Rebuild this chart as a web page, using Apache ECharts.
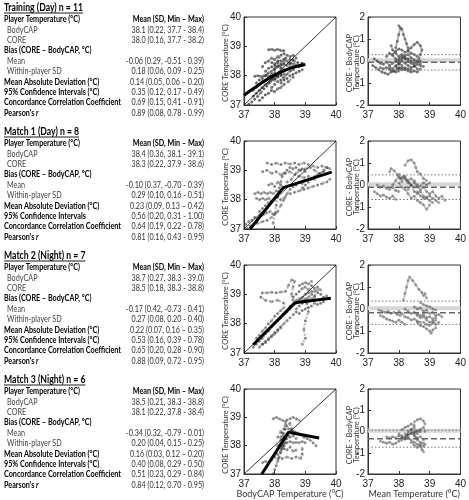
<!DOCTYPE html>
<html><head><meta charset="utf-8">
<script src="https://cdn.jsdelivr.net/npm/echarts@6.0.0/dist/echarts.min.js"></script>
<style>html,body{margin:0;padding:0;background:#fff}#c{width:469px;height:500px}</style>
</head><body><div id="c"></div>
<script>
// ---------- table text ----------
const blockTitles = ['Training (Day) n = 11','Match 1 (Day) n = 8','Match 2 (Night) n = 7','Match 3 (Night) n = 6'];
const rowLabels = ['Player Temperature (°C)','BodyCAP','CORE','Bias (CORE – BodyCAP, °C)','Mean','Within-player SD','Mean Absolute Deviation (°C)','95% Confidence Intervals (°C)','Concordance Correlation Coefficient',"Pearson's "];
const rowIsHeader = [true,false,false,true,false,false,true,true,true,true];
const ciLabelMatch1 = '95% Confidence Intervals';
const valueHeader = 'Mean (SD, Min – Max)';
const trainValues = ['38.1 (0.22, 37.7 - 38.4)','38.0 (0.16, 37.7 - 38.2)','','-0.06 (0.29, -0.51 - 0.39)','0.18 (0.06, 0.09 - 0.25)','0.14 (0.05, 0.06 – 0.20)','0.35 (0.12, 0.17 - 0.49)','0.69 (0.15, 0.41 - 0.91)','0.89 (0.08, 0.78 - 0.99)'];
const match1Values = ['38.4 (0.36, 38.1 - 39.1)','38.3 (0.22, 37.9 - 38.6)','','-0.10 (0.37, -0.70 - 0.39)','0.29 (0.10, 0.16 - 0.51)','0.23 (0.09, 0.13 – 0.42)','0.56 (0.20, 0.31 - 1.00)','0.64 (0.19, 0.22 - 0.78)','0.81 (0.16, 0.43 - 0.95)'];
const match2Values = ['38.7 (0.27, 38.3 - 39.0)','38.5 (0.18, 38.3 - 38.8)','','-0.17 (0.42, -0.73 - 0.41)','0.27 (0.08, 0.20 - 0.40)','0.22 (0.07, 0.16 – 0.35)','0.53 (0.16, 0.39 - 0.78)','0.65 (0.20, 0.28 - 0.90)','0.88 (0.09, 0.72 - 0.95)'];
const match3Values = ['38.5 (0.21, 38.3 - 38.8)','38.1 (0.22, 37.8 - 38.4)','','-0.34 (0.32, -0.79 - 0.01)','0.20 (0.04, 0.15 - 0.25)','0.16 (0.03, 0.12 – 0.20)','0.40 (0.08, 0.29 - 0.50)','0.51 (0.23, 0.29 - 0.84)','0.84 (0.12, 0.70 - 0.95)'];
const scatterYName = 'CORE Temperature (°C)';
const baYName1 = 'CORE - BodyCAP';
const baYName2 = 'Temperature (°C)';

// ---------- axis ticks ----------
const tempTicks = [37, 38, 39, 40];
const diffTicks = [-2, -1, 0, 1, 2];

// ---------- Bland-Altman lines ----------
const biasMean = [-0.06, -0.10, -0.17, -0.34];
const loaUpper = [0.29, 0.46, 0.36, 0.06];
const loaLower = [-0.41, -0.66, -0.70, -0.74];
const zeroRef = 0.03;

// ---------- scatter traces (BodyCAP, CORE) ----------
const train_sc = [
 [[37.15,37.02],[37.25,37.1],[37.35,37.2],[37.45,37.3],[37.55,37.42],[37.65,37.55],[37.75,37.65],[37.85,37.78],[37.95,37.9],[38.05,38.0],[38.15,38.12],[38.3,38.22]],
 [[37.35,37.98],[37.45,38.0],[37.55,37.97],[37.65,38.0],[37.75,38.02],[37.85,37.98]],
 [[37.8,38.88],[37.9,38.9],[38.0,38.87],[38.1,38.9],[38.2,38.86],[38.3,38.85]],
 [[37.6,38.3],[37.7,38.45],[37.8,38.5],[37.9,38.6],[38.0,38.55],[38.1,38.65],[38.2,38.5],[38.35,38.6],[38.5,38.55],[38.65,38.5]],
 [[37.9,37.6],[38.0,37.7],[38.1,37.8],[38.2,37.85],[38.3,37.95],[38.4,38.05],[38.5,38.15],[38.6,38.2],[38.7,38.3],[38.8,38.35],[38.9,38.4]],
 [[37.5,37.15],[37.6,37.25],[37.7,37.35],[37.8,37.4],[37.9,37.5],[38.0,37.45],[38.1,37.55],[38.2,37.6],[38.3,37.7],[38.45,37.8],[38.6,37.95]],
 [[37.7,38.15],[37.8,38.25],[37.9,38.3],[38.0,38.2],[38.1,38.35],[38.2,38.25],[38.3,38.4],[38.4,38.35],[38.5,38.45],[38.6,38.4],[38.75,38.45],[38.9,38.42]],
 [[37.3,37.5],[37.4,37.6],[37.5,37.7],[37.6,37.8],[37.7,37.85],[37.8,37.95],[37.9,38.05],[38.0,38.1],[38.1,38.0],[38.2,38.1]],
 [[38.0,38.4],[38.1,38.5],[38.2,38.7],[38.3,38.75],[38.4,38.7],[38.5,38.65],[38.6,38.7],[38.7,38.6]],
 [[37.4,37.75],[37.5,37.85],[37.6,37.9],[37.7,38.0],[37.8,38.1],[37.9,38.15],[38.0,38.25],[38.1,38.3],[38.2,38.35],[38.3,38.45]],
 [[38.0,37.9],[38.1,38.0],[38.2,38.05],[38.3,38.15],[38.4,38.2],[38.5,38.3],[38.6,38.3],[38.7,38.35],[38.8,38.3],[38.9,38.35]],
 [[37.3,37.3],[37.4,37.4],[37.5,37.5],[37.6,37.6],[37.7,37.7],[37.8,37.75],[37.9,37.85],[38.0,37.85],[38.1,37.95],[38.2,38.0],[38.3,38.05]],
 [[38.2,37.75],[38.3,37.85],[38.4,37.9],[38.5,38.0],[38.6,38.05],[38.7,38.1],[38.8,38.15],[38.9,38.2]],
 [[37.9,38.45],[38.0,38.35],[38.1,38.45],[38.2,38.4],[38.3,38.55],[38.4,38.5],[38.5,38.4],[38.6,38.55]]
];
const m1_sc = [
 [[37.75,39.25],[37.9,39.2],[38.05,39.25],[38.2,39.2],[38.35,39.25],[38.5,39.22],[38.65,39.25],[38.8,39.2],[38.95,39.25],[39.1,39.2],[39.25,39.15],[39.4,39.1],[39.55,39.15],[39.7,39.1],[39.8,39.05]],
 [[37.6,38.95],[37.75,39.0],[37.9,38.9],[38.05,38.95],[38.2,38.85],[38.35,38.9],[38.5,38.95],[38.65,38.85],[38.8,38.8],[38.95,38.75],[39.1,38.8],[39.3,38.7]],
 [[37.35,38.2],[37.45,38.25],[37.55,38.2],[37.65,38.25],[37.75,38.2],[37.85,38.25],[37.95,38.2],[38.05,38.3],[38.15,38.25]],
 [[37.4,38.05],[37.5,38.0],[37.6,38.05],[37.7,38.0],[37.8,38.05],[37.9,37.95],[38.0,38.05],[38.1,38.1],[38.2,38.0],[38.35,38.1]],
 [[37.05,37.15],[37.15,37.25],[37.25,37.3],[37.35,37.4],[37.45,37.35],[37.55,37.45],[37.65,37.5],[37.75,37.55],[37.85,37.6],[37.95,37.5],[38.05,37.55]],
 [[37.1,37.0],[37.2,37.1],[37.3,37.15],[37.45,37.2],[37.6,37.25],[37.75,37.3],[37.9,37.4]],
 [[37.95,37.2],[38.0,37.5],[38.05,37.8],[38.1,38.1],[38.15,38.4],[38.2,38.6],[38.25,38.8]],
 [[38.1,37.6],[38.2,37.8],[38.3,38.0],[38.4,38.2],[38.5,38.35],[38.6,38.45],[38.7,38.5],[38.8,38.6],[38.9,38.55],[39.0,38.65]],
 [[38.5,38.2],[38.65,38.25],[38.8,38.3],[38.95,38.35],[39.1,38.4],[39.25,38.45],[39.4,38.5],[39.55,38.55],[39.7,38.6],[39.8,38.7]],
 [[38.4,38.6],[38.55,38.7],[38.7,38.9],[38.85,39.0],[39.0,39.05],[39.15,39.1],[39.3,39.0],[39.45,38.9],[39.6,38.95]],
 [[37.8,38.5],[37.9,38.55],[38.0,38.45],[38.1,38.6],[38.2,38.5],[38.3,38.4]],
 [[38.3,38.9],[38.4,39.0],[38.5,39.1],[38.6,39.05],[38.7,39.1],[38.8,39.0],[38.9,39.05],[39.0,38.95]],
 [[37.5,37.6],[37.6,37.7],[37.7,37.8],[37.8,37.9],[37.9,37.95],[38.0,38.0]],
 [[38.9,38.4],[39.0,38.5],[39.1,38.6],[39.2,38.7],[39.3,38.8],[39.4,38.85],[39.5,38.9],[39.6,39.0],[39.7,39.1]]
];
const m2_sc = [
 [[37.3,37.2],[37.4,37.3],[37.5,37.4],[37.6,37.5],[37.7,37.65],[37.8,37.75],[37.9,37.9],[38.0,38.0],[38.1,38.1],[38.2,38.2],[38.3,38.3],[38.4,38.4],[38.5,38.5]],
 [[37.5,37.2],[37.6,37.3],[37.7,37.35],[37.8,37.5],[37.9,37.55],[38.0,37.7],[38.1,37.8],[38.2,37.9],[38.3,38.0],[38.4,38.1],[38.5,38.2]],
 [[37.4,37.5],[37.5,37.6],[37.6,37.75],[37.7,37.85],[37.8,38.0],[37.9,38.1],[38.0,38.25],[38.1,38.35],[38.2,38.45],[38.3,38.55]],
 [[38.3,38.7],[38.1,38.8],[37.9,38.75],[37.7,38.8],[37.55,38.9],[37.6,39.05],[37.75,39.05],[37.9,39.07],[38.05,39.05],[38.2,39.08],[38.35,39.1],[38.45,39.3],[38.55,39.5],[38.65,39.45],[38.6,39.25],[38.55,39.0],[38.6,38.8]],
 [[39.05,38.7],[39.1,38.4],[39.0,38.1],[38.95,37.8],[39.0,37.5],[38.9,37.3]],
 [[38.7,38.5],[38.8,38.6],[38.9,38.7],[39.0,38.8],[39.1,38.9],[39.2,39.0],[39.3,38.95],[39.4,39.05],[39.5,39.0],[39.6,38.9],[39.7,38.95]],
 [[38.6,38.9],[38.7,39.0],[38.8,39.1],[38.9,39.2],[39.0,39.25],[39.1,39.15],[39.2,39.3],[39.3,39.2],[39.4,39.25],[39.5,39.15]],
 [[38.6,38.3],[38.7,38.4],[38.8,38.35],[38.9,38.45],[39.0,38.5],[39.1,38.55],[39.2,38.6],[39.3,38.7],[39.4,38.65],[39.5,38.7],[39.6,38.75]],
 [[38.8,39.3],[38.9,39.35],[39.0,39.4],[39.1,39.35],[39.2,39.45]],
 [[38.7,38.8],[38.8,38.85],[38.9,38.9],[39.0,39.0],[39.1,39.05],[39.2,39.1],[39.3,39.1],[39.4,39.15]],
 [[38.5,38.6],[38.6,38.65],[38.7,38.7],[38.8,38.75],[38.9,38.8],[39.0,38.85],[39.1,38.8],[39.2,38.85],[39.3,38.9]],
 [[37.6,37.3],[37.7,37.4],[37.8,37.45],[37.9,37.6],[38.0,37.65],[38.1,37.75],[38.2,37.85]]
];
const m3_sc = [
 [[37.6,37.4],[37.7,37.45],[37.8,37.4],[37.9,37.5],[38.0,37.6],[38.1,37.7],[38.2,37.8],[38.25,38.0],[38.3,38.2]],
 [[37.95,37.0],[38.0,37.15],[38.05,37.3],[38.1,37.45],[38.15,37.6],[38.2,37.75],[38.25,37.9],[38.3,38.05],[38.35,38.25]],
 [[38.1,37.55],[38.25,37.55],[38.4,37.6],[38.55,37.55],[38.7,37.6],[38.85,37.55],[38.9,37.7],[38.9,37.9]],
 [[38.2,38.3],[38.25,38.45],[38.3,38.6],[38.35,38.75],[38.4,38.9],[38.5,38.95],[38.6,39.0],[38.7,38.95],[38.8,38.9]],
 [[37.95,38.95],[38.05,39.0],[38.15,38.95],[38.25,38.9],[38.35,38.85]],
 [[38.45,38.6],[38.55,38.55],[38.65,38.5],[38.75,38.45],[38.85,38.4],[38.95,38.3],[39.05,38.25],[39.15,38.2],[39.25,38.1],[39.35,38.0]],
 [[38.4,38.1],[38.5,38.15],[38.6,38.1],[38.7,38.12],[38.8,38.1],[38.9,38.15],[39.0,38.1]],
 [[38.1,38.3],[38.2,38.5],[38.3,38.3],[38.4,38.4],[38.5,38.3],[38.6,38.35],[38.7,38.25]],
 [[38.1,38.0],[38.2,38.1],[38.3,37.9],[38.4,37.85],[38.5,37.95],[38.6,37.8],[38.7,37.85]],
 [[38.2,38.2],[38.3,38.4],[38.35,38.6],[38.4,38.7],[38.5,38.8],[38.55,38.6],[38.6,38.5]],
 [[38.2,37.9],[38.3,38.0],[38.35,38.1],[38.4,38.25],[38.45,38.35],[38.5,38.5]]
];

// ---------- Bland-Altman traces (mean, CORE - BodyCAP) ----------
const train_ba = [
 [[37.15,-0.2],[37.25,-0.3],[37.35,-0.4],[37.45,-0.5],[37.55,-0.55],[37.65,-0.6],[37.75,-0.5],[37.85,-0.45],[37.95,-0.35]],
 [[37.2,0.1],[37.3,0.0],[37.4,-0.1],[37.5,-0.15],[37.6,-0.05],[37.7,-0.2],[37.8,-0.1],[37.9,0.0],[38.0,-0.1],[38.1,-0.2]],
 [[37.9,0.6],[37.95,0.9],[38.0,1.2],[38.05,1.5],[38.0,1.6],[38.1,1.45],[38.15,1.2],[38.2,1.0],[38.25,0.8],[38.3,0.6]],
 [[37.75,0.7],[37.8,0.5],[37.9,0.35],[38.0,0.2],[38.1,0.3],[38.2,0.1],[38.3,0.0],[38.4,-0.1],[38.5,-0.2],[38.6,-0.35]],
 [[38.0,-0.3],[38.1,-0.4],[38.2,-0.3],[38.3,-0.45],[38.4,-0.5],[38.5,-0.45],[38.6,-0.5],[38.7,-0.35]],
 [[38.3,0.5],[38.4,0.6],[38.5,0.75],[38.6,0.85],[38.7,0.7],[38.75,0.5],[38.7,0.3],[38.65,0.1]],
 [[37.6,0.2],[37.7,0.35],[37.8,0.25],[37.9,0.1],[38.0,0.0],[38.1,0.1],[38.2,0.25],[38.3,0.3],[38.4,0.15],[38.5,0.05],[38.6,0.0],[38.7,-0.1]],
 [[37.9,-0.2],[38.0,-0.15],[38.1,0.0],[38.2,-0.1],[38.3,-0.2],[38.4,-0.3],[38.5,-0.25],[38.6,-0.15],[38.7,-0.2],[38.8,-0.25]],
 [[37.7,-0.3],[37.8,-0.35],[37.9,-0.25],[38.0,-0.35],[38.1,-0.3],[38.2,-0.4],[38.3,-0.35],[38.4,-0.4]],
 [[37.8,0.3],[37.9,0.45],[38.0,0.55],[38.1,0.5],[38.2,0.4],[38.3,0.45],[38.4,0.35],[38.5,0.3],[38.6,0.2]],
 [[37.4,-0.3],[37.5,-0.35],[37.6,-0.3],[37.7,-0.4],[37.8,-0.45],[37.9,-0.5],[38.0,-0.45]],
 [[38.0,0.1],[38.1,0.2],[38.2,0.15],[38.3,0.1],[38.4,0.0],[38.5,-0.1],[38.6,-0.05],[38.7,0.0]]
];
const m1_ba = [
 [[37.2,-0.3],[37.3,-0.4],[37.4,-0.5],[37.5,-0.45],[37.6,-0.55],[37.7,-0.6],[37.8,-0.5],[37.9,-0.65]],
 [[37.3,0.0],[37.4,-0.1],[37.5,-0.05],[37.6,-0.15],[37.7,-0.2],[37.8,-0.1],[37.9,-0.25],[38.0,-0.3]],
 [[37.7,0.6],[37.75,0.75],[37.85,0.65],[37.95,0.45],[38.05,0.3],[38.15,0.4],[38.25,0.2],[38.35,0.1]],
 [[38.2,0.9],[38.3,1.1],[38.4,1.15],[38.5,1.0],[38.55,0.8],[38.6,0.6],[38.7,0.5],[38.8,0.3],[38.9,0.2]],
 [[38.0,0.1],[38.1,-0.1],[38.2,-0.2],[38.3,-0.4],[38.4,-0.6],[38.5,-0.5],[38.6,-0.7],[38.7,-0.8],[38.8,-0.9],[38.9,-1.1],[39.0,-0.9]],
 [[38.5,0.2],[38.6,0.0],[38.7,-0.2],[38.8,-0.1],[38.9,-0.3],[39.0,-0.4],[39.1,-0.3],[39.2,-0.5],[39.3,-0.6],[39.4,-0.5],[39.5,-0.7]],
 [[38.0,0.5],[38.1,0.3],[38.2,0.4],[38.3,0.2],[38.4,0.3],[38.5,0.1],[38.6,-0.1],[38.7,-0.05],[38.8,0.1],[38.9,0.0],[39.0,0.1]],
 [[38.3,-0.2],[38.4,0.0],[38.5,-0.3],[38.6,-0.4],[38.7,-0.3],[38.8,-0.5],[38.9,-0.6],[39.0,-0.7],[39.1,-0.8]],
 [[37.8,0.0],[37.9,0.2],[38.0,0.35],[38.1,0.15],[38.2,0.3],[38.3,0.1],[38.4,0.0],[38.5,-0.1]],
 [[38.6,-0.3],[38.7,-0.5],[38.8,-0.6],[38.9,-0.55],[39.0,-0.5],[39.1,-0.6],[39.2,-0.7],[39.3,-0.8]]
];
const m2_ba = [
 [[37.35,-0.05],[37.45,-0.1],[37.55,-0.15],[37.65,-0.1],[37.75,-0.2],[37.85,-0.15],[37.95,-0.25],[38.05,-0.3]],
 [[37.4,-0.3],[37.5,-0.35],[37.6,-0.45],[37.7,-0.5],[37.8,-0.55],[37.9,-0.6],[38.0,-0.5],[38.1,-0.6],[38.2,-0.7]],
 [[38.15,0.4],[38.2,0.7],[38.25,1.0],[38.3,1.3],[38.35,1.45],[38.45,1.3],[38.55,1.1],[38.65,0.9],[38.75,0.75],[38.8,0.6],[38.85,0.7],[38.9,0.5]],
 [[38.2,0.0],[38.3,-0.1],[38.4,-0.2],[38.5,-0.15],[38.6,-0.3],[38.7,-0.4],[38.8,-0.35],[38.9,-0.5],[39.0,-0.6],[39.1,-0.55],[39.2,-0.7],[39.3,-0.6]],
 [[38.5,0.1],[38.6,0.0],[38.7,0.05],[38.8,-0.1],[38.9,-0.05],[39.0,-0.2],[39.1,-0.15],[39.2,-0.3],[39.3,-0.25],[39.4,-0.35]],
 [[38.6,-0.6],[38.7,-0.75],[38.8,-0.8],[38.9,-0.9],[39.0,-1.0],[39.05,-1.1],[39.1,-0.95],[39.2,-0.85]],
 [[38.0,-0.1],[38.1,-0.2],[38.2,-0.35],[38.3,-0.4],[38.4,-0.5],[38.5,-0.45],[38.6,-0.55],[38.7,-0.6]],
 [[38.7,0.3],[38.8,0.2],[38.9,0.15],[39.0,0.1],[39.1,0.0],[39.2,-0.05]],
 [[38.6,-0.2],[38.7,-0.3],[38.8,-0.25],[38.9,-0.4],[39.0,-0.35],[39.1,-0.45],[39.2,-0.4]],
 [[38.8,-0.6],[38.9,-0.7],[39.0,-0.75],[39.1,-0.65],[39.2,-0.5]]
];
const m3_ba = [
 [[37.4,-0.45],[37.5,-0.5],[37.6,-0.55],[37.7,-0.5],[37.8,-0.6],[37.9,-0.55],[38.0,-0.45],[38.1,-0.4]],
 [[37.6,-0.25],[37.7,-0.3],[37.8,-0.25],[37.9,-0.3],[38.0,-0.2],[38.1,-0.3],[38.2,-0.25],[38.3,-0.1]],
 [[38.0,-0.1],[38.1,-0.2],[38.2,-0.35],[38.3,-0.3],[38.4,-0.4],[38.5,-0.5],[38.6,-0.6],[38.7,-0.7],[38.75,-0.85],[38.8,-0.95]],
 [[38.3,0.0],[38.4,0.1],[38.5,0.2],[38.55,0.0],[38.6,-0.1],[38.7,0.1],[38.8,0.2],[38.85,0.0]],
 [[38.5,0.45],[38.6,0.55],[38.7,0.6],[38.8,0.5],[38.85,0.35]],
 [[38.2,-0.1],[38.3,-0.15],[38.4,-0.05],[38.5,-0.2],[38.6,-0.3],[38.7,-0.25],[38.8,-0.4]],
 [[38.4,-0.5],[38.5,-0.65],[38.6,-0.75],[38.7,-0.6],[38.8,-0.7],[38.85,-0.6]],
 [[38.1,0.1],[38.2,0.2],[38.3,0.25],[38.4,0.35],[38.5,0.3]],
 [[38.1,-0.3],[38.2,-0.35],[38.25,-0.2],[38.3,-0.25],[38.4,-0.1],[38.5,-0.05],[38.6,0.05],[38.7,0.0]],
 [[38.4,0.1],[38.5,-0.1],[38.55,-0.3],[38.6,-0.4],[38.7,-0.5],[38.8,-0.55]]
];

// ---------- fitted lines & identity ----------
const train_fit = [[37,37.33],[37.5,37.7],[38,38.02],[38.5,38.25],[39,38.38]];
const m1_fit = [[37.2,37.0],[38.28,38.41],[39.86,38.94]];
const m2_fit = [[37.3,37.28],[38.66,38.71],[39.83,38.87]];
const m3_fit = [[37.58,37.0],[38.45,38.47],[39.45,38.27]];
const identityLine = [[37,37],[40,40]];

// ---------- build ----------
const panels = [
  {sc: train_sc, ba: train_ba, fit: train_fit, smooth: true, vals: trainValues, alpha: 0.55},
  {sc: m1_sc, ba: m1_ba, fit: m1_fit, smooth: false, vals: match1Values, alpha: 0.42},
  {sc: m2_sc, ba: m2_ba, fit: m2_fit, smooth: false, vals: match2Values, alpha: 0.42},
  {sc: m3_sc, ba: m3_ba, fit: m3_fit, smooth: false, vals: match3Values, alpha: 0.42}
];
const rowTops = [17, 141, 265, 389];
const plotH = 88;
const tickFont = 'Liberation Sans';
const labFont = 'Lato, "Open Sans", sans-serif';

const grids = [], xAxes = [], yAxes = [], series = [];
function axisCommon(m){
  return {
    axisLine: {show: true, onZero: false, lineStyle: {color: '#333', width: 1}},
    axisTick: {show: true, inside: true, length: 3, lineStyle: {color: '#333'}},
    splitLine: {show: false},
    axisLabel: {fontFamily: tickFont, fontSize: 10, color: '#222', margin: m}
  };
}
panels.forEach((p, r) => {
  const gs = r*2, gb = r*2+1;
  grids.push({left: 244, top: rowTops[r], width: 92, height: plotH, show: true, borderColor: '#333', borderWidth: 1});
  grids.push({left: 368, top: rowTops[r], width: 94, height: plotH, show: true, borderColor: '#333', borderWidth: 1});
  const last = r === 3;
  xAxes.push(Object.assign(axisCommon(5), {gridIndex: gs, type: 'value', min: tempTicks[0], max: tempTicks[3], interval: 1,
    name: last ? 'BodyCAP Temperature (°C)' : '', nameLocation: 'middle', nameGap: 16,
    nameTextStyle: {fontFamily: labFont, fontSize: 9, color: '#333'}}));
  xAxes.push(Object.assign(axisCommon(5), {gridIndex: gb, type: 'value', min: tempTicks[0], max: tempTicks[3], interval: 1,
    name: last ? 'Mean Temperature (°C)' : '', nameLocation: 'middle', nameGap: 16,
    nameTextStyle: {fontFamily: labFont, fontSize: 9, color: '#333'}}));
  yAxes.push(Object.assign(axisCommon(3), {gridIndex: gs, type: 'value', min: tempTicks[0], max: tempTicks[3], interval: 1}));
  yAxes.push(Object.assign(axisCommon(3), {gridIndex: gb, type: 'value', min: diffTicks[0], max: diffTicks[4], interval: 1}));

  const a = p.alpha;
  p.sc.forEach(tr => series.push({type: 'line', xAxisIndex: gs, yAxisIndex: gs, data: tr, silent: true, z: 2,
    symbol: 'circle', symbolSize: 3, showSymbol: true,
    itemStyle: {color: 'rgba(40,40,40,' + a + ')'},
    lineStyle: {color: 'rgba(60,60,60,' + (a - 0.04) + ')', width: 2, type: [2, 1.5]}}));
  series.push({type: 'line', xAxisIndex: gs, yAxisIndex: gs, data: identityLine, symbol: 'none', silent: true, z: 3,
    lineStyle: {color: '#000', width: 0.8}});
  series.push({type: 'line', xAxisIndex: gs, yAxisIndex: gs, data: p.fit, symbol: 'none', silent: true, z: 4,
    smooth: p.smooth, lineStyle: {color: '#000', width: 3}});

  series.push({type: 'line', xAxisIndex: gb, yAxisIndex: gb, data: [[37, zeroRef],[40, zeroRef]], symbol: 'none', silent: true, z: 1,
    lineStyle: {color: '#d6d6d6', width: 4}});
  p.ba.forEach(tr => series.push({type: 'line', xAxisIndex: gb, yAxisIndex: gb, data: tr, silent: true, z: 2,
    symbol: 'circle', symbolSize: 3, showSymbol: true,
    itemStyle: {color: 'rgba(50,50,50,' + (a - 0.04) + ')'},
    lineStyle: {color: 'rgba(80,80,80,' + (a - 0.1) + ')', width: 2}}));
  series.push({type: 'line', xAxisIndex: gb, yAxisIndex: gb, data: [[37, biasMean[r]],[40, biasMean[r]]], symbol: 'none', silent: true, z: 3,
    lineStyle: {color: '#666', width: 1.4, type: [6, 3]}});
  [loaUpper[r], loaLower[r]].forEach(v => series.push({type: 'line', xAxisIndex: gb, yAxisIndex: gb, data: [[37, v],[40, v]], symbol: 'none', silent: true, z: 3,
    lineStyle: {color: '#777', width: 1, type: [1.5, 2]}}));
});

// ---------- table graphics ----------
const cv = document.createElement('canvas').getContext('2d');
function tw(font, s){ cv.font = font; return cv.measureText(s).width; }
const fB = 'bold 10px ' + labFont, fR = '10px ' + labFont, fBI = 'italic bold 10px ' + labFont, fT = 'bold 11.5px ' + labFont;
const sx = 117 / tw(fB, 'Concordance Correlation Coefficient');
const tsx = 79 / tw(fT, blockTitles[0]);
const graphics = [];
function txt(x, y, s, font, fill, align, scale){
  graphics.push({type: 'text', x: x, y: y, scaleX: scale, silent: true,
    style: {text: s, font: font, fill: fill, textAlign: align, textVerticalAlign: 'middle'}});
}
function vtxt(x, y, s, font){
  graphics.push({type: 'text', x: x, y: y, rotation: Math.PI / 2, silent: true,
    style: {text: s, font: font, fill: '#333', textAlign: 'center', textVerticalAlign: 'middle'}});
}
panels.forEach((p, r) => {
  const base = rowTops[r] - 17;
  const ty = base + 7;
  txt(4, ty, blockTitles[r], fT, '#000', 'left', tsx);
  const w = tw(fT, blockTitles[r]) * tsx;
  graphics.push({type: 'line', silent: true, shape: {x1: 4, y1: ty + 6, x2: 4 + w, y2: ty + 6}, style: {stroke: '#000', lineWidth: 0.9}});
  rowLabels.forEach((lab, i) => {
    const y = base + 19 + i * 10.4;
    let s = lab;
    if (r === 1 && i === 7) s = ciLabelMatch1;
    if (rowIsHeader[i]) {
      txt(4, y, s, fB, '#000', 'left', sx);
      if (i === 9) txt(4 + tw(fB, s) * sx, y, 'r', fBI, '#000', 'left', sx);
    } else {
      txt(7, y, s, fR, '#444', 'left', sx);
    }
    if (i === 0) txt(204, y, valueHeader, fB, '#000', 'right', sx);
    else if (p.vals[i-1]) txt(204, y, p.vals[i-1], fR, '#333', 'right', sx);
  });
  const cy = rowTops[r] + plotH / 2 + 2;
  vtxt(226, cy, scatterYName, '7.5px ' + labFont);
  vtxt(349.5, cy, baYName1, '7.5px ' + labFont);
  vtxt(357, cy, baYName2, '7.5px ' + labFont);
});

const chart = echarts.init(document.getElementById('c'), null, {renderer: 'canvas'});
chart.setOption({animation: false, grid: grids, xAxis: xAxes, yAxis: yAxes, series: series, graphic: {elements: graphics}});
</script></body></html>
